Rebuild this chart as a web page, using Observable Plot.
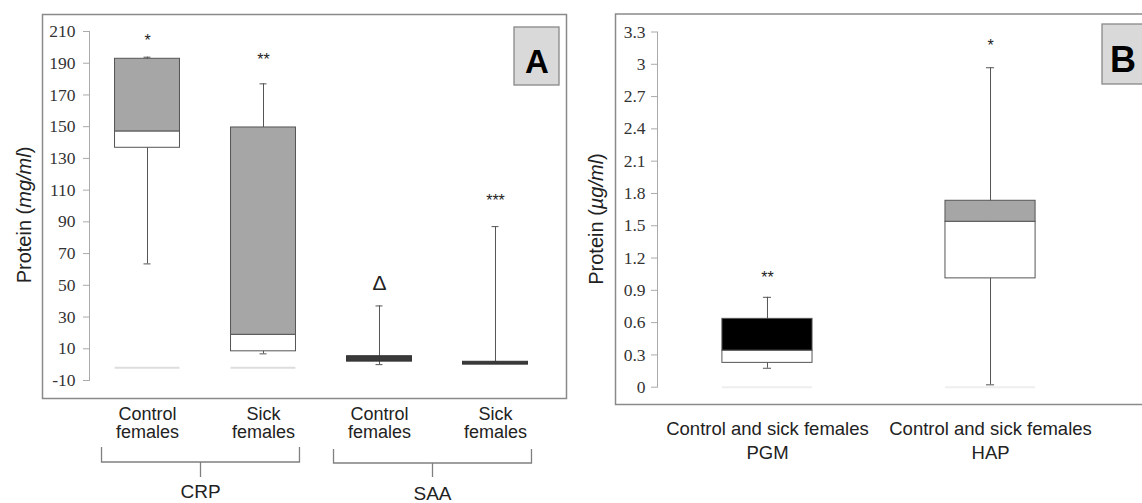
<!DOCTYPE html>
<html><head><meta charset="utf-8">
<script src="https://cdn.jsdelivr.net/npm/d3@7"></script>
<script src="https://cdn.jsdelivr.net/npm/@observablehq/plot@0.6"></script>
<style>
html,body{margin:0;padding:0;background:#fff;overflow:hidden;}
#wrap{position:relative;width:1142px;height:503px;overflow:hidden;background:#fff;}
#wrap svg{position:absolute;top:0;}
</style></head><body><div id="wrap"></div>
<script>
// ---------- Panel A data (mg/ml) ----------
const idsA = ["crpControl", "crpSick", "saaControl", "saaSick"];
const tickLabelsA = ["Control\nfemales", "Sick\nfemales", "Control\nfemales", "Sick\nfemales"];
const groupNamesA = ["CRP", "SAA"];
const groupMembersA = [["crpControl", "crpSick"], ["saaControl", "saaSick"]];
const minA = [63.5, 6.8, 0, 1.8];
const q1A = [136.7, 8.4, 1.9, 0];
const medA = [147, 18.8, 1.9, 0];
const q3A = [192.8, 149.5, 5.3, 1.8];
const maxA = [193.8, 177, 37, 87];
const baseA = [-2, -2, null, null];
const sigA = ["*", "**", "Δ", "***"];
const sigYA = [204, 192, 51, 103];
const yTicksA = [-10, 10, 30, 50, 70, 90, 110, 130, 150, 170, 190, 210];

// ---------- Panel B data (µg/ml) ----------
const idsB = ["pgm", "hap"];
const tickLabelsB = ["Control and sick females\nPGM", "Control and sick females\nHAP"];
const minB = [0.176, 0.022];
const q1B = [0.226, 1.011];
const medB = [0.34, 1.537];
const q3B = [0.635, 1.732];
const maxB = [0.835, 2.968];
const baseB = [0, 0];
const sigB = ["**", "*"];
const sigYB = [1.02, 3.17];
const yTicksB = [0, 0.3, 0.6, 0.9, 1.2, 1.5, 1.8, 2.1, 2.4, 2.7, 3, 3.3];

const rowsA = idsA.map((id, i) => ({id, min: minA[i], q1: q1A[i], med: medA[i], q3: q3A[i], max: maxA[i], base: baseA[i], sig: sigA[i], sigY: sigYA[i]}));
const rowsB = idsB.map((id, i) => ({id, min: minB[i], q1: q1B[i], med: medB[i], q3: q3B[i], max: maxB[i], base: baseB[i], sig: sigB[i], sigY: sigYB[i]}));

const SANS = "Liberation Sans, Arial, Helvetica, sans-serif";
const SERIF = "Liberation Serif, Times New Roman, serif";
const BOX = "#555";
const wrap = document.getElementById("wrap");

function addYTitle(svg, x, y, unit) {
  const t = d3.select(svg).append("text")
    .attr("transform", `translate(${x},${y}) rotate(-90)`)
    .attr("text-anchor", "middle").attr("font-family", SANS)
    .attr("font-size", 20).attr("fill", "#222");
  t.append("tspan").text("Protein (");
  t.append("tspan").attr("font-style", "italic").text(unit);
  t.append("tspan").text(")");
}
function addLetter(svg, x, y, w, h, letter, size, cx) {
  const g = d3.select(svg).append("g");
  g.append("rect").attr("x", x).attr("y", y).attr("width", w).attr("height", h)
    .attr("fill", "#d9d9d9").attr("stroke", "#888").attr("stroke-width", 1.3);
  g.append("text").attr("x", cx).attr("y", y + h - 12).attr("text-anchor", "middle").attr("font-family", SANS)
    .attr("font-weight", "bold").attr("font-size", size).attr("fill", "#000").text(letter);
}

// ---------- Panel A ----------
const plotA = Plot.plot({
  width: 575, height: 503,
  marginLeft: 89, marginRight: 22, marginTop: 31, marginBottom: 123,
  x: {domain: idsA, range: [89, 553], paddingInner: 0.44, paddingOuter: 0.22, round: false},
  y: {domain: [-10, 210]},
  marks: [
    Plot.frame({stroke: "#8a8a8a", strokeWidth: 1.5, insetLeft: -47, insetRight: -13, insetTop: -17, insetBottom: -18}),
    Plot.frame({anchor: "left", stroke: "#aaa"}),
    Plot.axisY({ticks: yTicksA, tickSize: 6, tickPadding: 8, tickFormat: d => String(d), label: null,
      fontSize: 17.5, fontFamily: SERIF, stroke: "#aaa", fill: "#333"}),
    Plot.axisX({tickSize: 0, tickPadding: 26, label: null, fontSize: 18, fontFamily: SANS, lineHeight: 1.03,
      fill: "#222", tickFormat: d => tickLabelsA[idsA.indexOf(d)]}),
    Plot.tickY(rowsA.filter(d => d.base != null), {x: "id", y: "base", stroke: "#ddd", strokeWidth: 2}),
    Plot.ruleX(rowsA, {x: "id", y1: "min", y2: "max", stroke: BOX}),
    Plot.tickY(rowsA, {x: "id", y: "max", stroke: BOX, insetLeft: 29, insetRight: 29}),
    Plot.tickY(rowsA, {x: "id", y: "min", stroke: BOX, insetLeft: 29, insetRight: 29}),
    Plot.barY(rowsA.slice(0, 2), {x: "id", y1: "q1", y2: "med", fill: "#fff", stroke: BOX}),
    Plot.barY(rowsA.slice(0, 2), {x: "id", y1: "med", y2: "q3", fill: "#a6a6a6", stroke: BOX}),
    Plot.barY(rowsA.slice(2), {x: "id", y1: "q1", y2: "q3", fill: "#3a3a3a", stroke: "#333"}),
    Plot.text(rowsA.filter(d => d.sig !== "Δ"), {x: "id", y: "sigY", text: "sig", fontSize: 16, fontFamily: SANS, fill: "#222"}),
    Plot.text(rowsA.filter(d => d.sig === "Δ"), {x: "id", y: "sigY", text: "sig", fontSize: 21, fontFamily: SANS, fill: "#222"})
  ]
});
plotA.style.left = "0px";
wrap.appendChild(plotA);
addYTitle(plotA, 31, 215, "mg/ml");
addLetter(plotA, 514, 27, 45, 58, "A", 33, 537);
{
  const sx = plotA.scale("x"), sy = plotA.scale("y");
  const bw = sx.bandwidth, yb = sy.apply(-10);
  const g = d3.select(plotA).append("g").attr("stroke", "#808080").attr("stroke-width", 1.3).attr("fill", "none");
  groupNamesA.forEach((name, gi) => {
    const [a, b] = groupMembersA[gi];
    const x1 = sx.apply(a) - 13, x2 = sx.apply(b) + bw + 4, xm = (x1 + x2) / 2;
    const top = yb + 67 + gi * 2, mid = yb + 82 + gi * 1, bot = yb + 97;
    g.append("path").attr("d", `M${x1},${top}V${mid}H${x2}V${top}M${xm},${mid}V${bot}`);
    d3.select(plotA).append("text").attr("x", xm).attr("y", yb + 118 + gi * 1.5).attr("text-anchor", "middle")
      .attr("font-family", SANS).attr("font-size", 19).attr("fill", "#222").text(name);
  });
}

// ---------- Panel B ----------
const plotB = Plot.plot({
  width: 600, height: 503,
  marginLeft: 82, marginRight: 75, marginTop: 31.5, marginBottom: 116.3,
  x: {domain: idsB, range: [82, 525], paddingInner: 0.596, paddingOuter: 0.291, round: false},
  y: {domain: [0, 3.3]},
  marks: [
    Plot.frame({stroke: "#8a8a8a", strokeWidth: 1.5, insetLeft: -42, insetRight: -90, insetTop: -18, insetBottom: -17.3}),
    Plot.frame({anchor: "left", stroke: "#aaa"}),
    Plot.axisY({ticks: yTicksB, tickSize: 6, tickPadding: 6, tickFormat: d => String(d), label: null,
      fontSize: 17.5, fontFamily: SERIF, stroke: "#aaa", fill: "#333"}),
    Plot.axisX({tickSize: 0, tickPadding: 31, label: null, fontSize: 18.5, fontFamily: SANS, lineHeight: 1.3,
      fill: "#222", tickFormat: d => tickLabelsB[idsB.indexOf(d)]}),
    Plot.tickY(rowsB, {x: "id", y: "base", stroke: "#eee", strokeWidth: 2}),
    Plot.ruleX(rowsB, {x: "id", y1: "min", y2: "max", stroke: BOX}),
    Plot.tickY(rowsB, {x: "id", y: "max", stroke: BOX, insetLeft: 41, insetRight: 41}),
    Plot.tickY(rowsB, {x: "id", y: "min", stroke: BOX, insetLeft: 41, insetRight: 41}),
    Plot.barY(rowsB, {x: "id", y1: "q1", y2: "med", fill: "#fff", stroke: BOX}),
    Plot.barY(rowsB.slice(0, 1), {x: "id", y1: "med", y2: "q3", fill: "#000", stroke: BOX}),
    Plot.barY(rowsB.slice(1), {x: "id", y1: "med", y2: "q3", fill: "#a6a6a6", stroke: BOX}),
    Plot.text(rowsB, {x: "id", y: "sigY", text: "sig", fontSize: 16, fontFamily: SANS, fill: "#222"})
  ]
});
plotB.style.left = "575px";
wrap.appendChild(plotB);
addYTitle(plotB, 28, 219, "µg/ml");
addLetter(plotB, 527, 24, 60, 60, "B", 36, 548);
</script></body></html>
